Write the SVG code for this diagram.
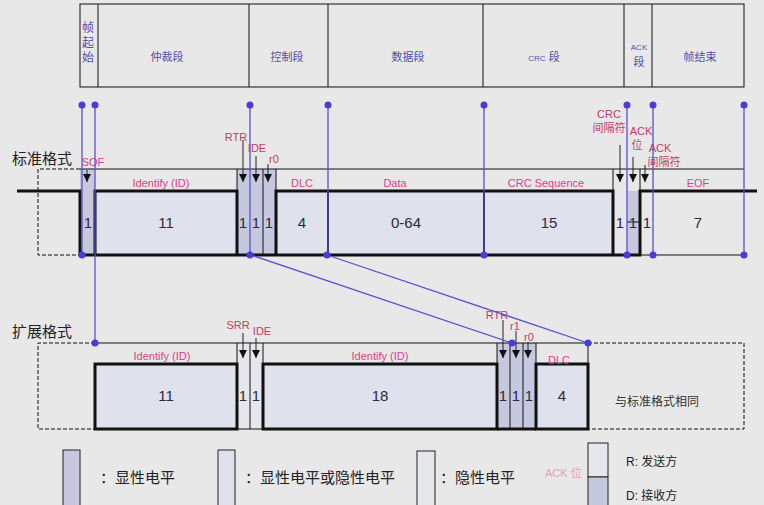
<svg xmlns="http://www.w3.org/2000/svg" width="764" height="505" viewBox="0 0 764 505">
<style>
text{font-family:"Liberation Sans","Noto Sans CJK SC",sans-serif}
.hdr{font-size:11px;fill:#5050a8;text-anchor:middle}
.ttl{font-size:15px;fill:#222}
.num{font-size:15px;fill:#2a2a40;text-anchor:middle}
.lbl{font-size:11px;fill:#d8408a;text-anchor:middle}
.lbl2{font-size:11px;fill:#c03c64;text-anchor:middle}
.thin{stroke:#111;stroke-width:1;fill:none}
.thick{stroke:#111;stroke-width:3;fill:none}
.dash{stroke:#111;stroke-width:1;fill:none;stroke-dasharray:4 2}
.dom{fill:#c6c8e0}
.any{fill:#dfe1ec}
.rec{fill:#e6e7ec}
.arr{stroke:#222;stroke-width:1;fill:none;marker-end:url(#ah)}
.bl{stroke:#5a50d0;stroke-width:1.3;fill:none}
.dot{fill:#4a3cd8}
.leg{font-size:15px;fill:#222}
.leg2{font-size:12px;fill:#222}
</style>
<defs>
<marker id="ah" viewBox="0 0 10 10" refX="10" refY="5" markerWidth="8" markerHeight="8" markerUnits="userSpaceOnUse" orient="auto">
<path d="M0,0 L10,5 L0,10 z" fill="#111"/>
</marker>
</defs>
<rect x="0" y="0" width="764" height="505" fill="#e8e8e8"/>

<g id="header">
<rect x="80" y="4" width="664" height="83" class="thin" fill="#e8e8e8"/>
<path d="M98,4 V87 M249,4 V87 M328,4 V87 M483,4 V87 M624,4 V87 M652,4 V87" class="thin"/>
<text class="hdr" font-size="12" x="88" y="32" style="font-size:12px">帧</text>
<text class="hdr" x="88" y="47" style="font-size:12px">起</text>
<text class="hdr" x="88" y="62" style="font-size:12px">始</text>
<text class="hdr" x="167" y="61">仲裁段</text>
<text class="hdr" x="287" y="61">控制段</text>
<text class="hdr" x="408" y="61">数据段</text>
<text class="hdr" x="544" y="61"><tspan style="font-size:8px">CRC</tspan> 段</text>
<text class="hdr" x="639" y="50" style="font-size:8px">ACK</text>
<text class="hdr" x="639" y="66">段</text>
<text class="hdr" x="700" y="61">帧结束</text>
</g>

<g id="standard-format">
<text class="ttl" x="12" y="164">标准格式</text>
<path d="M80,169 H38 V255 H80" class="dash"/>
<rect x="80" y="169" width="15" height="86" class="dom"/>
<rect x="95" y="191" width="142" height="64" class="any"/>
<rect x="237" y="169" width="39" height="86" class="dom"/>
<rect x="276" y="191" width="337" height="64" class="any"/>
<rect x="613" y="191" width="14" height="64" class="rec"/>
<rect x="627" y="191" width="13" height="64" class="dom"/>
<line x1="80" y1="169" x2="744" y2="169" class="thin"/>
<line x1="640" y1="255" x2="744" y2="255" class="thin"/>
<path d="M237,169 V191 M263,169 V255 M276,169 V191 M613,169 V191 M640,169 V191 M627,222 H640" class="thin"/>
<path d="M328,191 V255 M484,191 V255" stroke="#111" stroke-width="2"/>
<path d="M17,191 H80 V255 H640 V191 H757" class="thick"/>
<path d="M95,255 V191 H237 V255 M276,255 V191 H613 V255" class="thick"/>
<text class="num" x="88" y="228">1</text>
<text class="num" x="166" y="228">11</text>
<text class="num" x="243" y="228">1</text>
<text class="num" x="256" y="228">1</text>
<text class="num" x="269" y="228">1</text>
<text class="num" x="302" y="228">4</text>
<text class="num" x="406" y="228">0-64</text>
<text class="num" x="549" y="228">15</text>
<text class="num" x="620" y="228">1</text>
<text class="num" x="633" y="228">1</text>
<text class="num" x="647" y="228">1</text>
<text class="num" x="698" y="228">7</text>
<text class="lbl" x="93" y="166">SOF</text>
<text class="lbl" x="161" y="187">Identify (ID)</text>
<text class="lbl" x="302" y="187">DLC</text>
<text class="lbl" x="395" y="187">Data</text>
<text class="lbl" x="546" y="187">CRC Sequence</text>
<text class="lbl" x="698" y="187">EOF</text>
<text class="lbl2" x="236" y="141">RTR</text>
<text class="lbl2" x="257" y="152">IDE</text>
<text class="lbl2" x="274" y="163">r0</text>
<text class="lbl2" x="609" y="118">CRC</text>
<text class="lbl2" x="609" y="132">间隔符</text>
<text class="lbl2" x="641" y="135">ACK</text>
<text class="lbl2" x="637" y="149">位</text>
<text class="lbl2" x="660" y="152">ACK</text>
<text class="lbl2" x="664" y="166">间隔符</text>
<path d="M87,170 V182" class="arr"/>
<path d="M243,140 V182" class="arr"/>
<path d="M256,156 V182" class="arr"/>
<path d="M268,164 V182" class="arr"/>
<path d="M620,145 V182" class="arr"/>
<path d="M633,157 V182" class="arr"/>
<path d="M645,165 V182" class="arr"/>
</g>

<g id="extended-format">
<text class="ttl" x="12" y="337">扩展格式</text>
<path d="M95,343 H38 V429 H95" class="dash"/>
<path d="M588,343 H744 V429 H588" class="dash"/>
<rect x="237" y="343" width="26" height="86" class="rec"/>
<rect x="497" y="343" width="39" height="86" class="dom"/>
<line x1="95" y1="343" x2="588" y2="343" class="thin"/>
<path d="M237,343 V429 M250,343 V429 M263,343 V429 M497,343 V429 M510,343 V429 M523,343 V429 M536,343 V429 M588,343 V364 M237,429 H263" class="thin"/>
<rect x="95" y="364" width="142" height="65" class="any"/>
<rect x="263" y="364" width="234" height="65" class="any"/>
<rect x="536" y="364" width="52" height="65" class="any"/>
<rect x="95" y="364" width="142" height="65" class="thick"/>
<rect x="263" y="364" width="234" height="65" class="thick"/>
<rect x="536" y="364" width="52" height="65" class="thick"/>
<line x1="497" y1="429" x2="536" y2="429" class="thick"/>
<text class="num" x="166" y="401">11</text>
<text class="num" x="243" y="401">1</text>
<text class="num" x="256" y="401">1</text>
<text class="num" x="380" y="401">18</text>
<text class="num" x="503" y="401">1</text>
<text class="num" x="516" y="401">1</text>
<text class="num" x="529" y="401">1</text>
<text class="num" x="562" y="401">4</text>
<text class="lbl" x="162" y="360">Identify (ID)</text>
<text class="lbl" x="380" y="360">Identify (ID)</text>
<text class="lbl" x="559" y="364">DLC</text>
<text class="lbl2" x="238" y="329">SRR</text>
<text class="lbl2" x="262" y="335">IDE</text>
<text class="lbl2" x="497" y="319">RTR</text>
<text class="lbl2" x="515" y="330">r1</text>
<text class="lbl2" x="529" y="341">r0</text>
<path d="M243,333 V358" class="arr"/>
<path d="M256,338 V358" class="arr"/>
<path d="M503,320 V358" class="arr"/>
<path d="M516,331 V358" class="arr"/>
<path d="M528,342 V358" class="arr"/>
<text x="615" y="406" style="font-size:12px;fill:#333">与标准格式相同</text>
</g>

<g id="connectors">
<path d="M82,105 V255 M95,105 V343 M250,105 V255 M328,105 V255 M484,105 V255 M627,105 V255 M653,105 V255 M744,105 V255 M251,255 L512,343 M327,255 L588,343" class="bl"/>
<g class="dot">
<circle cx="82" cy="105" r="3.5"/><circle cx="95" cy="105" r="3.5"/><circle cx="250" cy="105" r="3.5"/><circle cx="328" cy="105" r="3.5"/><circle cx="484" cy="105" r="3.5"/><circle cx="627" cy="105" r="3.5"/><circle cx="653" cy="105" r="3.5"/><circle cx="744" cy="105" r="3.5"/>
<circle cx="82" cy="255" r="3.5"/><circle cx="250" cy="255" r="3.5"/><circle cx="327" cy="255" r="3.5"/><circle cx="484" cy="255" r="3.5"/><circle cx="627" cy="255" r="3.5"/><circle cx="653" cy="255" r="3.5"/><circle cx="744" cy="255" r="3.5"/>
<circle cx="95" cy="343" r="3.5"/><circle cx="512" cy="343" r="3.5"/><circle cx="588" cy="343" r="3.5"/>
</g>
</g>

<g id="legend">
<rect x="63" y="450" width="17" height="60" class="dom" stroke="#222" stroke-width="1"/>
<text class="leg" x="100" y="483">：显性电平</text>
<rect x="218" y="450" width="17" height="60" class="any" stroke="#222" stroke-width="1"/>
<text class="leg" x="245" y="483">：显性电平或隐性电平</text>
<rect x="417" y="451" width="18" height="60" class="rec" stroke="#222" stroke-width="1"/>
<text class="leg" x="440" y="483">：隐性电平</text>
<text x="545" y="477" style="font-size:11px;fill:#e0a0b8">ACK 位</text>
<rect x="588" y="443" width="20" height="34" class="rec" stroke="#222" stroke-width="1"/>
<rect x="588" y="477" width="20" height="34" class="dom" stroke="#222" stroke-width="1"/>
<text class="leg2" x="626" y="466">R: 发送方</text>
<text class="leg2" x="626" y="500">D: 接收方</text>
</g>
</svg>
